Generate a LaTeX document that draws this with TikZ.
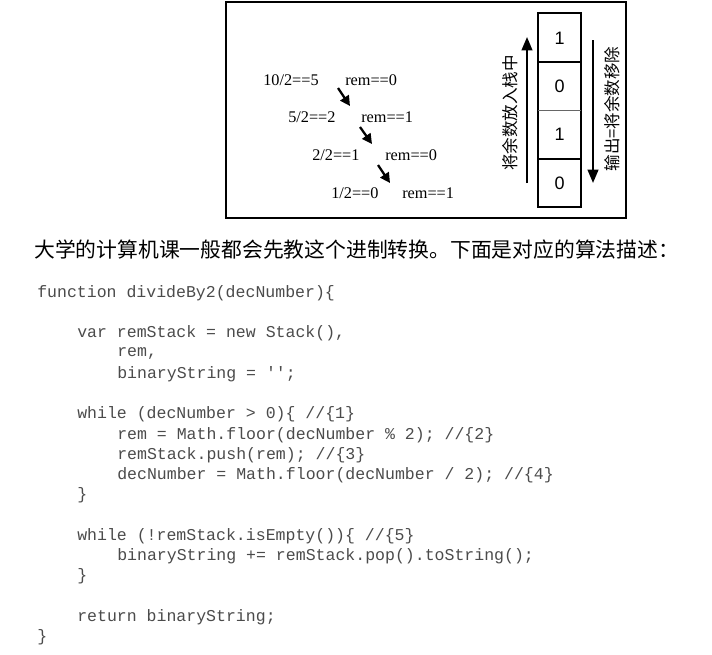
\documentclass[tikz,border=0pt]{standalone}
\usepackage{fontspec}
\usetikzlibrary{arrows.meta}
\newfontfamily\cjk{Noto Sans CJK SC}
\newfontfamily\timesfont{Liberation Serif}
\newfontfamily\arialfont{Liberation Sans}
\newfontfamily\codefont{Liberation Mono}
\definecolor{codegrey}{RGB}{75,75,75}
\tikzset{
  calc/.style={anchor=west,inner sep=0pt,font=\timesfont\fontsize{12.2}{14}\selectfont},
  digit/.style={inner sep=0pt,font=\arialfont\fontsize{13.5}{15}\selectfont},
  sidelabel/.style={inner sep=0pt,rotate=90,font=\cjk\fontsize{12.4}{14}\selectfont},
  codeline/.style={anchor=west,inner sep=0pt,text=codegrey,font=\codefont\fontsize{12.4}{14}\selectfont},
  steparrow/.style={line width=1.7pt,-{Triangle[length=7.5pt,width=7.5pt]}},
  stackarrow/.style={line width=1.5pt,-{Triangle[length=10pt,width=8pt]}},
}
\begin{document}
\begin{tikzpicture}[x=0.75pt,y=0.75pt,yscale=-1,xscale=1]
\useasboundingbox (0,0) rectangle (712,654);

%Shape: Rectangle [frame]
\draw [line width=0.8pt] (226,2) -- (626,2) -- (626,218) -- (226,218) -- cycle ;

% Text Node
\node [calc] (q1) at (263,80) {10/2==5};
\node [calc] (r1) at (345,80) {rem==0};
\node [calc] (q2) at (288,117) {5/2==2};
\node [calc] (r2) at (361,117) {rem==1};
\node [calc] (q3) at (312,155) {2/2==1};
\node [calc] (r3) at (385,155) {rem==0};
\node [calc] (q4) at (331,193) {1/2==0};
\node [calc] (r4) at (402,193) {rem==1};

%Straight Lines [steps]
\coordinate (s1) at (338,88);  \coordinate (e1) at (350,106);
\coordinate (s2) at (360,127); \coordinate (e2) at (372,144);
\coordinate (s3) at (378,165); \coordinate (e3) at (390,183);
\draw [steparrow] (s1) -- (e1) ;
\draw [steparrow] (s2) -- (e2) ;
\draw [steparrow] (s3) -- (e3) ;

%Shape: Rectangle [stack]
\draw [line width=0.8pt] (538,13) -- (581,13) -- (581,207) -- (538,207) -- cycle ;
\draw [line width=0.8pt] (538,62) -- (581,62) ;
\draw [line width=0.4pt,color=black!60] (538,110) -- (581,110) ;
\draw [line width=0.8pt] (538,159) -- (581,159) ;
\node [digit] (d1) at (559.5,38) {1};
\node [digit] (d2) at (559.5,86) {0};
\node [digit] (d3) at (559.5,134.5) {1};
\node [digit] (d4) at (559.5,183) {0};

%Straight Lines [push / pop]
\coordinate (pushlow) at (527,183); \coordinate (pushhigh) at (527,37);
\coordinate (pophigh) at (593,40);  \coordinate (poplow) at (593,183);
\draw [stackarrow] (pushlow) -- (pushhigh) ;
\draw [stackarrow] (pophigh) -- (poplow) ;
\node [sidelabel] (pushlabel) at (510,113) {将余数放入栈中};
\node [sidelabel] (poplabel) at (612,109) {输出=将余数移除};

% Text Node
\node [anchor=west,inner sep=0pt,font=\cjk\fontsize{15.6}{18}\selectfont] (intro) at (34,250) {大学的计算机课一般都会先教这个进制转换。下面是对应的算法描述：};

% Code lines
\node [codeline] (l0) at (37,293) {function divideBy2(decNumber)\{};
\node [codeline] (l2) at (77,333.5) {var remStack = new Stack(),};
\node [codeline] (l3) at (117,353.75) {rem,};
\node [codeline] (l4) at (117,374) {binaryString = \symbol{39}\symbol{39};};
\node [codeline] (l6) at (77,414.5) {while (decNumber > 0)\{ //\{1\}};
\node [codeline] (l7) at (117,434.75) {rem = Math.floor(decNumber \% 2); //\{2\}};
\node [codeline] (l8) at (117,455) {remStack.push(rem); //\{3\}};
\node [codeline] (l9) at (117,475.25) {decNumber = Math.floor(decNumber / 2); //\{4\}};
\node [codeline] (l10) at (77,495.5) {\}};
\node [codeline] (l12) at (77,536) {while (!remStack.isEmpty())\{ //\{5\}};
\node [codeline] (l13) at (117,556) {binaryString += remStack.pop().toString();};
\node [codeline] (l14) at (77,576.5) {\}};
\node [codeline] (l16) at (77,617) {return binaryString;};
\node [codeline] (l17) at (37,637) {\}};

\end{tikzpicture}
\end{document}
